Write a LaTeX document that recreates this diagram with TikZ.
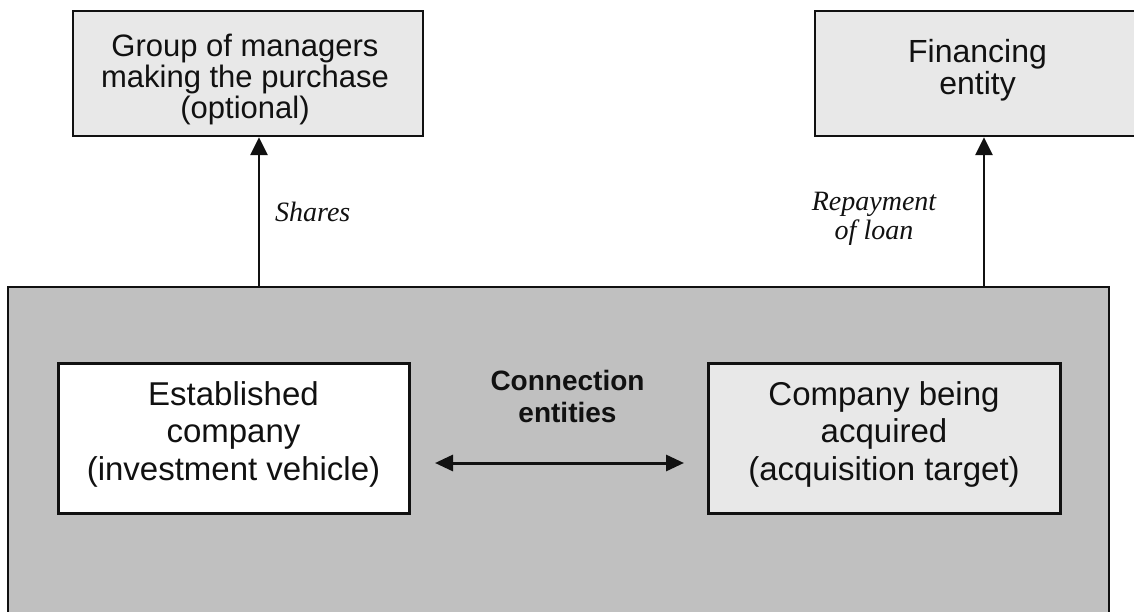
\documentclass[tikz,border=0pt]{standalone}
\usepackage{fontspec}
\setmainfont{Liberation Sans}
\newfontfamily\labelserif{Liberation Serif}
\usetikzlibrary{arrows.meta}
\definecolor{panelgray}{HTML}{C0C0C0}
\definecolor{boxgray}{HTML}{E8E8E8}
\definecolor{inkblack}{HTML}{111111}
\begin{document}
\begin{tikzpicture}[x=1pt,y=-1pt,
  topbox/.style={draw=inkblack, line width=2.4pt, fill=boxgray, inner sep=0pt},
  innerbox/.style={draw=inkblack, line width=3pt, inner sep=0pt, minimum width=351pt, minimum height=150pt},
  boxtext/.style={align=center, inner sep=0pt, text=inkblack},
  flowlabel/.style={inner sep=0pt, text=inkblack, font=\labelserif\itshape\fontsize{28pt}{29pt}\selectfont},
  flow/.style={draw=inkblack, line width=2.8pt, -{Triangle[length=18pt,width=17pt]}},
  link/.style={draw=inkblack, line width=3pt, {Triangle[length=18pt,width=16pt]}-{Triangle[length=18pt,width=16pt]}}
]
\useasboundingbox (0,0) rectangle (1134,612);
\clip (0,0) rectangle (1134,612);

% outer panel holding the two companies
\node[draw=inkblack, line width=2.8pt, fill=panelgray, inner sep=0pt,
      minimum width=1101pt, minimum height=363pt] (frame) at (558.5,468.5) {};

% top boxes
\node[topbox, minimum width=350pt, minimum height=125pt] (mgr) at (248,73.5) {};
\node[boxtext, font=\fontsize{31pt}{31pt}\selectfont] (mgrtext) at (245,79.5)
  {Group of managers\\making the purchase\\(optional)};

\node[topbox, minimum width=325pt, minimum height=125pt] (fin) at (977.5,73.5) {};
\node[boxtext, font=\fontsize{32pt}{32pt}\selectfont] (fintext) at (977.5,70.6)
  {Financing\\entity};

% companies inside the panel
\node[innerbox, fill=white] (veh) at (233.5,438) {};
\node[boxtext, font=\fontsize{33pt}{37.5pt}\selectfont] (vehtext) at (233.5,434)
  {Established\\company\\(investment vehicle)};

\node[innerbox, fill=boxgray, minimum width=352pt] (tgt) at (884,438) {};
\node[boxtext, font=\fontsize{33pt}{37.5pt}\selectfont] (tgttext) at (884,434)
  {Company being\\acquired\\(acquisition target)};

\node[boxtext, font=\bfseries\fontsize{28pt}{32pt}\selectfont] (conn) at (567.5,396)
  {Connection\\entities};

% flows out of the panel
\coordinate (a1) at (259,287);
\coordinate (a2) at (984,287);
\draw[flow] (a1) -- (a1 |- mgr.south);
\draw[flow] (a2) -- (a2 |- fin.south);

\node[flowlabel, anchor=base west] (shares) at (275,222) {Shares};
\node[flowlabel, align=center] (repay) at (874,219) {Repayment\\of loan};

% link between the two companies
\coordinate (l1) at (435,463);
\coordinate (l2) at (684,463);
\draw[link] (l1) -- (l2);
\end{tikzpicture}
\end{document}
